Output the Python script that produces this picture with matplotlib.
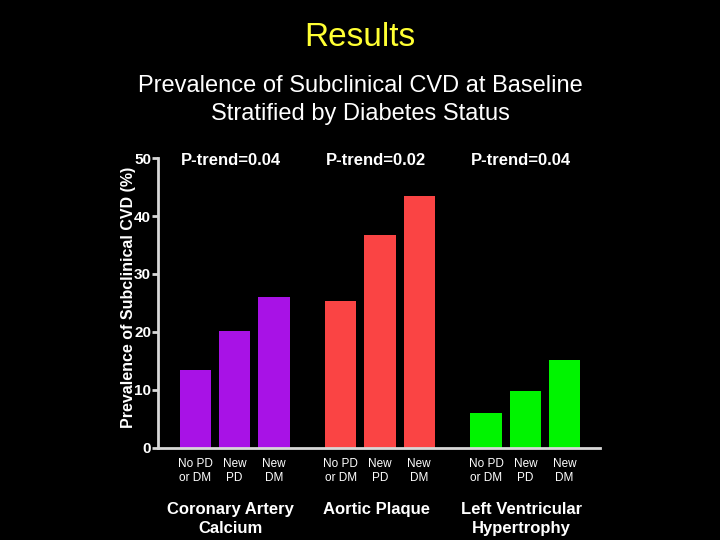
import matplotlib.pyplot as plt
import numpy as np

plt.rcParams['font.family'] = ['Liberation Sans', 'DejaVu Sans']

groups = ['Coronary Artery\nCalcium', 'Aortic Plaque', 'Left Ventricular\nHypertrophy']
categories = ['No PD\nor DM', 'New\nPD', 'New\nDM']
cac = [13.5, 20.2, 26.0]
plaque = [25.3, 36.8, 43.5]
lvh = [6.0, 9.8, 15.1]
p_trends = ['P-trend=0.04', 'P-trend=0.02', 'P-trend=0.04']
colors = ['#A812E6', '#FA4444', '#00F400']


def main():
    fig = plt.figure(figsize=(7.2, 5.4), dpi=100, facecolor='black')
    ax = fig.add_axes([0.2194, 0.1704, 0.6139, 0.537])
    ax.set_facecolor('black')

    spacing = 3.7
    series = [cac, plaque, lvh]
    xticks, xlabels = [], []
    for g, vals in enumerate(series):
        x = np.arange(len(vals)) + g * spacing
        ax.bar(x, vals, width=0.8, color=colors[g])
        xticks.extend(x)
        xlabels.extend(categories)
        center = x.mean()
        ax.text(center - 0.1, 49.5, p_trends[g], color='white', fontsize=12,
                fontweight='bold', ha='center', va='center')
        ax.text(center - 0.1, -9.3, groups[g], color='white', fontsize=12,
                fontweight='bold', ha='center', va='top', linespacing=1.35)

    ax.set_xlim(-0.95, 2 * spacing + 2 + 0.9)
    ax.set_ylim(0, 50)
    ax.set_yticks([0, 10, 20, 30, 40, 50])
    ax.set_xticks(xticks)
    ax.set_xticklabels(xlabels, fontsize=8.5, color='white', linespacing=1.3)
    ax.tick_params(axis='x', length=0, pad=7)
    ax.tick_params(axis='y', colors='#d8d8d8', length=4, width=2, pad=1)
    for lab in ax.get_yticklabels():
        lab.set_color('white')
        lab.set_fontsize(11)
        lab.set_fontweight('bold')

    for side in ['top', 'right']:
        ax.spines[side].set_visible(False)
    for side in ['left', 'bottom']:
        ax.spines[side].set_color('#d8d8d8')
        ax.spines[side].set_linewidth(2)

    fig.text(128 / 720, 1 - 297 / 540, 'Prevalence of Subclinical CVD (%)',
             rotation=90, ha='center', va='center', color='white',
             fontsize=11.5, fontweight='bold')

    fig.text(0.5, 1 - 38 / 540, 'Results', color='#FFFF33', fontsize=24,
             ha='center', va='center')
    fig.text(0.5, 1 - 100 / 540,
             'Prevalence of Subclinical CVD at Baseline\nStratified by Diabetes Status',
             color='white', fontsize=17, ha='center', va='center', linespacing=1.4)

    fig.savefig('out.png', dpi=100, facecolor='black')


if __name__ == "__main__":
    main()
